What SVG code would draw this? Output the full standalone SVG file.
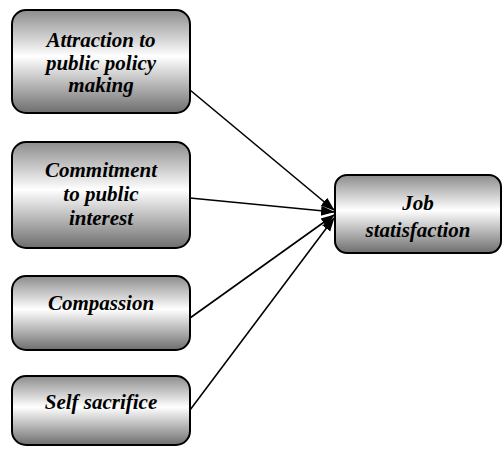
<svg xmlns="http://www.w3.org/2000/svg" width="504" height="450" viewBox="0 0 504 450">
<defs>
<linearGradient id="g" x1="0" y1="0" x2="0" y2="1">
<stop offset="0" stop-color="#8c8c8c"/>
<stop offset="0.45" stop-color="#ffffff"/>
<stop offset="1" stop-color="#6e6e6e"/>
</linearGradient>
<marker id="ah" markerWidth="14" markerHeight="12" refX="13" refY="6" orient="auto" markerUnits="userSpaceOnUse">
<path d="M0,1 L14,6 L0,11 Z" fill="#000"/>
</marker>
</defs>
<style>
.box{fill:url(#g);stroke:#000;stroke-width:2}
.t{font-family:'Liberation Serif','Times New Roman',serif;font-style:italic;font-weight:bold;font-size:21px;text-anchor:middle;fill:#000}
.c{stroke:#000;stroke-width:1.6;fill:none;marker-end:url(#ah)}
</style>
<rect width="504" height="450" fill="#fff"/>
<g id="connectors">
<line class="c" x1="190" y1="90" x2="334" y2="210"/>
<line class="c" x1="190" y1="198" x2="334" y2="212"/>
<line class="c" x1="190" y1="318" x2="334" y2="215"/>
<line class="c" x1="190" y1="410" x2="334" y2="218"/>
</g>
<g id="n1">
<rect class="box" x="12" y="10" width="178" height="103" rx="14"/>
<text class="t" x="101" y="47">Attraction to</text>
<text class="t" x="101" y="70">public policy</text>
<text class="t" x="101" y="92">making</text>
</g>
<g id="n2">
<rect class="box" x="12" y="142" width="178" height="106" rx="14"/>
<text class="t" x="101" y="177">Commitment</text>
<text class="t" x="101" y="201">to public</text>
<text class="t" x="101" y="225">interest</text>
</g>
<g id="n3">
<rect class="box" x="12" y="276" width="178" height="74" rx="14"/>
<text class="t" x="101" y="310">Compassion</text>
</g>
<g id="n4">
<rect class="box" x="12" y="376" width="178" height="69" rx="14"/>
<text class="t" x="101" y="409">Self sacrifice</text>
</g>
<g id="n5">
<rect class="box" x="335" y="175" width="166" height="78" rx="12"/>
<text class="t" x="418" y="210">Job</text>
<text class="t" x="418" y="237">statisfaction</text>
</g>
</svg>
